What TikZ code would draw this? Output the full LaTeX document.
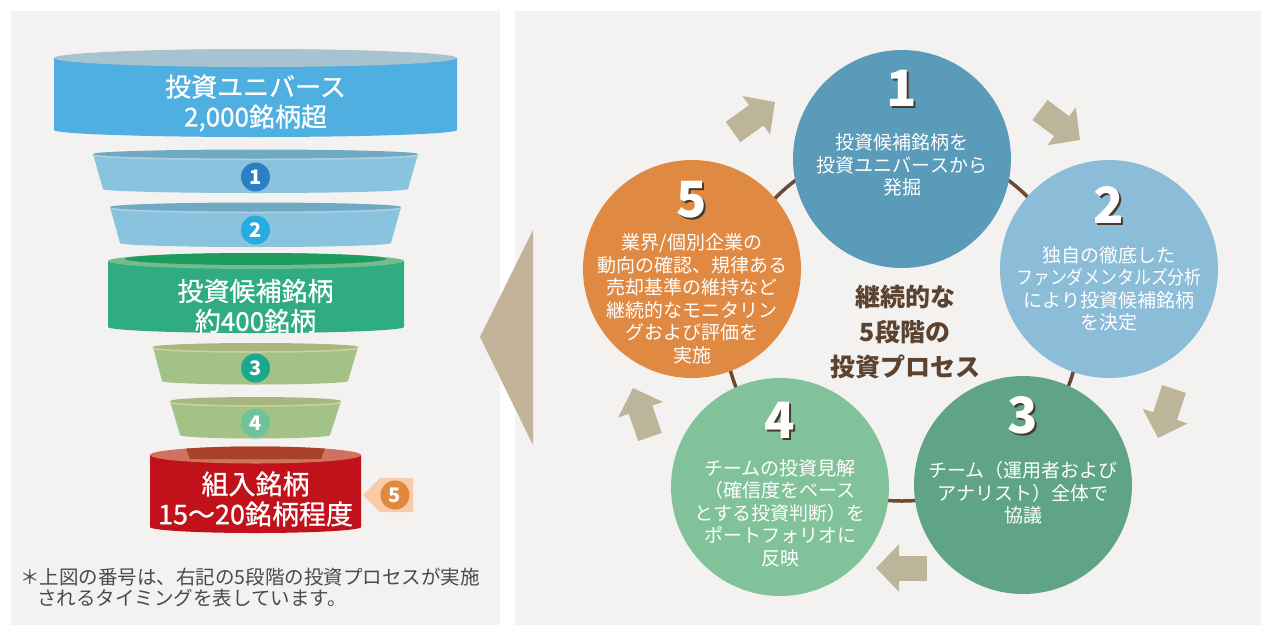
\documentclass[tikz,border=0pt]{standalone}
\usepackage{graphicx}
\usepackage{fontspec}
\setmainfont{Noto Sans CJK JP}
\newfontfamily\funnelfont{Noto Sans CJK JP}[FakeBold=0.8]
\usetikzlibrary{calc,arrows.meta}

\definecolor{panel}{HTML}{F4F2F0}
\definecolor{uniblue}{HTML}{4EAFE0}
\definecolor{unitop}{HTML}{A7C3CF}
\definecolor{ringblue}{HTML}{8AC3DE}
\definecolor{ringbluetop}{HTML}{6FA9C3}
\definecolor{ringbluerim}{HTML}{A9D0E3}
\definecolor{candgreen}{HTML}{2FAC80}
\definecolor{candtop}{HTML}{72BC90}
\definecolor{candinner}{HTML}{1F9B5D}
\definecolor{ringolive}{HTML}{A3C287}
\definecolor{ringolivetop}{HTML}{A9B67E}
\definecolor{ringoliverim}{HTML}{C8D3A0}
\definecolor{holdred}{HTML}{C1121C}
\definecolor{holdtop}{HTML}{CD7360}
\definecolor{holdinner}{HTML}{A9402A}
\definecolor{badgeone}{HTML}{2B80C5}
\definecolor{badgetwo}{HTML}{27ACE2}
\definecolor{badgethree}{HTML}{1AA88F}
\definecolor{badgefour}{HTML}{6CC39C}
\definecolor{badgefive}{HTML}{E0883E}
\definecolor{calloutpeach}{HTML}{F9CBA8}
\definecolor{notegray}{HTML}{4A4A4A}
\definecolor{wedge}{HTML}{C4B29A}
\definecolor{arrowbeige}{HTML}{BCB59A}
\definecolor{ringbrown}{HTML}{6B4A33}
\definecolor{titlebrown}{HTML}{5B4330}
\definecolor{numshadow}{HTML}{4A3A2C}
\definecolor{stageone}{HTML}{5A9BB9}
\definecolor{stagetwo}{HTML}{8BBCD8}
\definecolor{stagethree}{HTML}{5FA488}
\definecolor{stagefour}{HTML}{81C29A}
\definecolor{stagefive}{HTML}{E08942}

\begin{document}
\begin{tikzpicture}[x=1pt,y=-1pt,
        stage/.style={circle,minimum size=218pt,inner sep=0pt},
        bignum/.style={text=white,font=\bfseries\fontsize{50}{50}\selectfont},
        numshade/.style={text=numshadow,font=\bfseries\fontsize{50}{50}\selectfont},
        stagetext/.style={text=white,align=center,inner sep=0pt,font=\fontsize{19}{22.5}\selectfont},
        badge/.style={circle,minimum size=29pt,inner sep=0pt,text=white,font=\bfseries\fontsize{20}{20}\selectfont},
        funneltext/.style={text=white,align=center,inner sep=0pt,font=\funnelfont\fontsize{26}{30}\selectfont},
        notetext/.style={anchor=west,inner sep=0pt,text=notegray,font=\fontsize{19.5}{22}\selectfont},
        fattip/.style={draw=arrowbeige,line width=25pt,-{Triangle[length=23pt,width=46pt]}}]

        \fill[white] (0,0) rectangle (1261,625);
        \useasboundingbox (0,0) rectangle (1261,625);

        % Panels
        \fill[panel] (11,11) rectangle (500,625);
        \fill[panel] (515,11) rectangle (1261,625);

        % Funnel
        % Universe
        \fill[uniblue] (54,58) -- (54,130) arc[start angle=180,end angle=0,x radius=201.5,y radius=7] -- (457,58) -- cycle;
        \fill[unitop] (255.5,58) ellipse[x radius=201.5,y radius=9];
        \node[funneltext] (univ) at (255.5,103) {投資ユニバース\\2,000銘柄超};

        % Step 1 ring
        \fill[ringblue] (93,154) -- (103,189) arc[start angle=180,end angle=0,x radius=152.5,y radius=4] -- (418,154) -- cycle;
        \fill[ringbluetop] (255.5,154) ellipse[x radius=162.5,y radius=4.5];
        \draw[ringbluerim,line width=1.5pt] (93,155) arc[start angle=180,end angle=0,x radius=162.5,y radius=4.5];
        \node[badge,fill=badgeone] (b1) at (255.5,177) {1};

        % Step 2 ring
        \fill[ringblue] (110,207) -- (120,243) arc[start angle=180,end angle=0,x radius=135.5,y radius=4] -- (401,207) -- cycle;
        \fill[ringbluetop] (255.5,207) ellipse[x radius=145.5,y radius=4.5];
        \draw[ringbluerim,line width=1.5pt] (110,208) arc[start angle=180,end angle=0,x radius=145.5,y radius=4.5];
        \node[badge,fill=badgetwo] (b2) at (255.5,230) {2};

        % Candidates
        \fill[candgreen] (108,261) -- (108,327) arc[start angle=180,end angle=0,x radius=148,y radius=6] -- (404,261) -- cycle;
        \fill[candtop] (256,261) ellipse[x radius=148,y radius=8];
        \fill[candinner] (255.5,259) ellipse[x radius=130.5,y radius=6];
        \node[funneltext] (cand) at (255.5,306) {投資候補銘柄\\約400銘柄};

        % Step 3 ring
        \fill[ringolive] (153,347) -- (162,381) arc[start angle=180,end angle=0,x radius=93,y radius=3.5] -- (358,347) -- cycle;
        \fill[ringolivetop] (255.5,347) ellipse[x radius=102.5,y radius=4];
        \draw[ringoliverim,line width=1.5pt] (153,348) arc[start angle=180,end angle=0,x radius=102.5,y radius=4];
        \node[badge,fill=badgethree] (b3) at (255.5,368) {3};

        % Step 4 ring
        \fill[ringolive] (170,401) -- (180,435) arc[start angle=180,end angle=0,x radius=75,y radius=3.5] -- (341,401) -- cycle;
        \fill[ringolivetop] (255.5,401) ellipse[x radius=85.5,y radius=4];
        \draw[ringoliverim,line width=1.5pt] (170,402) arc[start angle=180,end angle=0,x radius=85.5,y radius=4];
        \node[badge,fill=badgefour] (b4) at (255.5,423) {4};

        % Holdings
        \fill[holdred] (150,455) -- (150,527) arc[start angle=180,end angle=0,x radius=105.5,y radius=6] -- (361,455) -- cycle;
        \fill[holdtop] (255.5,455) ellipse[x radius=105.5,y radius=8.5];
        \begin{scope}
            \clip (255.5,455) ellipse[x radius=105.5,y radius=8.5];
            \fill[holdinner] (183,440) -- (190,459) -- (321,459) -- (328,440) -- cycle;
        \end{scope}
        \node[funneltext,font=\funnelfont\fontsize{27}{30}\selectfont] (hold) at (255.5,499) {組入銘柄\\15〜20銘柄程度};

        % Step 5 callout
        \fill[calloutpeach] (363,495) -- (380,478) -- (413,478) -- (413,512) -- (380,512) -- cycle;
        \node[badge,fill=badgefive] (b5) at (395,495) {5};

        % Note
        \node[notetext] (note1) at (20,577) {＊上図の番号は、右記の5段階の投資プロセスが実施};
        \node[notetext] (note2) at (37,598) {されるタイミングを表しています。};

        % Pointer
        \fill[wedge] (480,337) -- (533,230) -- (533,445) -- cycle;

        % Ring behind the stages
        \coordinate (hub) at (902,323);
        \draw[ringbrown,line width=3.5pt] (hub) circle[radius=178];

        % Stages
        \node[stage,fill=stageone] (s1) at (902,159) {};
        \node[stage,fill=stagetwo] (s2) at (1109,269) {};
        \node[stage,fill=stagethree] (s3) at (1023,485) {};
        \node[stage,fill=stagefour] (s4) at (780,487) {};
        \node[stage,fill=stagefive] (s5) at (692,269) {};

        % Numbers
        \node[numshade] at ($(s1)+(2,-69)$) {1};
        \node[bignum] (n1) at ($(s1)+(0,-71)$) {1};
        \node[numshade] at ($(s2)+(2,-62)$) {2};
        \node[bignum] (n2) at ($(s2)+(0,-64)$) {2};
        \node[numshade] at ($(s3)+(2,-68)$) {3};
        \node[bignum] (n3) at ($(s3)+(0,-70)$) {3};
        \node[numshade] at ($(s4)+(2,-65)$) {4};
        \node[bignum] (n4) at ($(s4)+(0,-67)$) {4};
        \node[numshade] at ($(s5)+(2,-67)$) {5};
        \node[bignum] (n5) at ($(s5)+(0,-69)$) {5};

        % Stage texts
        \node[stagetext] (t1) at ($(s1)+(0,6)$) {投資候補銘柄を\\投資ユニバースから\\発掘};
        \node[stagetext] (t2) at ($(s2)+(0,20)$) {独自の徹底した\\\scalebox{0.89}[1]{ファンダメンタルズ分析}\\により投資候補銘柄\\を決定};
        \node[stagetext] (t3) at ($(s3)+(0,8)$) {チーム（運用者および\\アナリスト）全体で\\協議};
        \node[stagetext] (t4) at ($(s4)+(0,26)$) {チームの投資見解\\（確信度をベース\\とする投資判断）を\\ポートフォリオに\\反映};
        \node[stagetext] (t5) at ($(s5)+(0,30)$) {業界/個別企業の\\動向の確認、規律ある\\売却基準の維持など\\継続的なモニタリン\\グおよび評価を\\実施};

        % Title
        \node[text=titlebrown,align=center,font=\bfseries\fontsize{25}{35}\selectfont] (title) at (905,332) {継続的な\\5段階の\\投資プロセス};

        % Arrows
        \coordinate (a51) at (733,132);
        \coordinate (a51tip) at (775,102);
        \coordinate (a12) at (1040,110);
        \coordinate (a12tip) at (1080,140);
        \coordinate (a23) at (1174,389);
        \coordinate (a23tip) at (1158,438);
        \coordinate (a34) at (927,568);
        \coordinate (a34tip) at (876,568);
        \coordinate (a45) at (650,437);
        \coordinate (a45tip) at (633,388);

        \draw[fattip] (a51) -- (a51tip);
        \draw[fattip] (a12) -- (a12tip);
        \draw[fattip] (a23) -- (a23tip);
        \draw[fattip] (a34) -- (a34tip);
        \draw[fattip] (a45) -- (a45tip);

\end{tikzpicture}
\end{document}
